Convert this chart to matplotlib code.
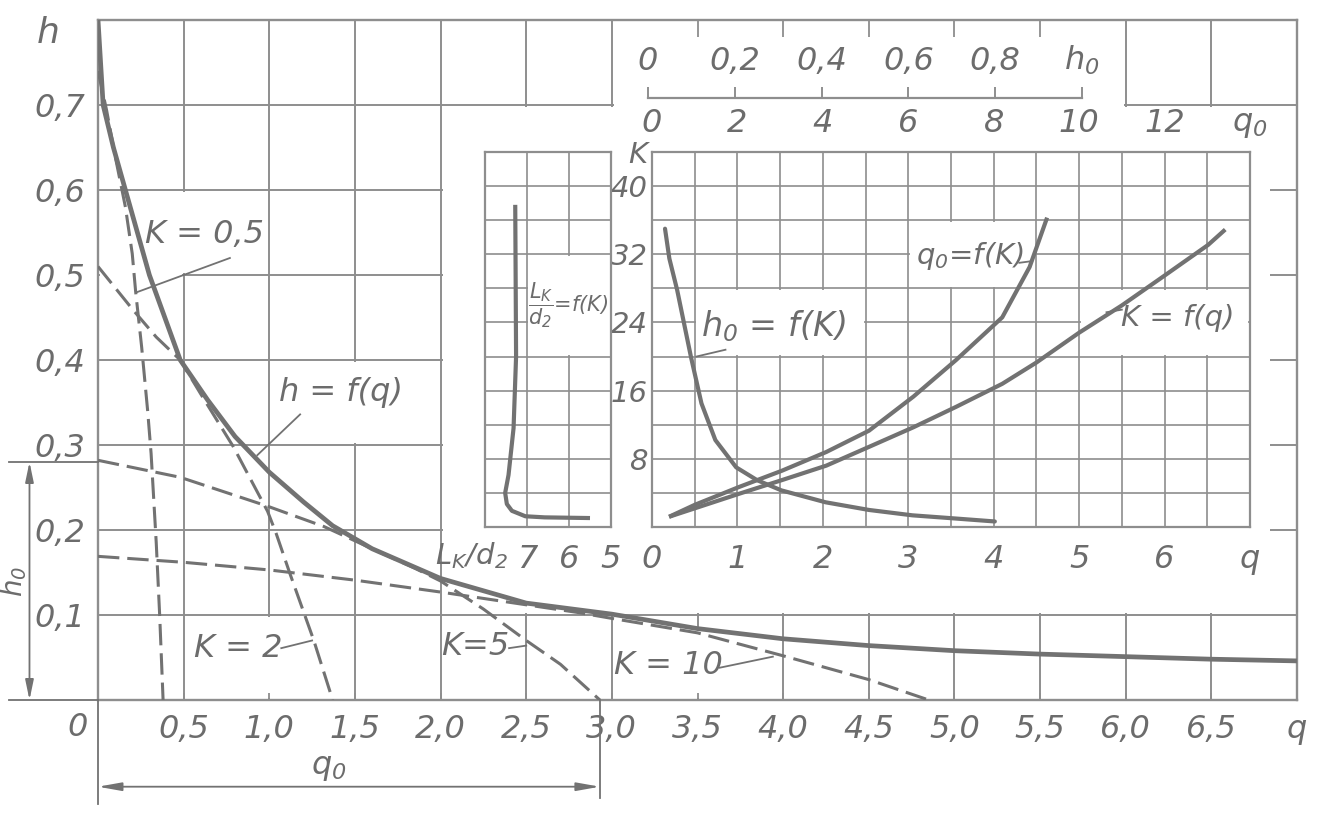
import numpy as np
import matplotlib
matplotlib.use('Agg')
import matplotlib.pyplot as plt
from matplotlib import font_manager
from matplotlib.patches import Rectangle

# ---------------- data ----------------
# main chart: envelope h = f(q)
hq_q = [0.0, 0.03, 0.09, 0.16, 0.23, 0.30, 0.39, 0.48, 0.64, 0.80, 1.00, 1.20, 1.37,
        1.60, 2.00, 2.50, 3.00, 3.50, 4.00, 4.50, 5.00, 5.50, 6.00, 6.50, 7.00]
hq_h = [0.80, 0.70, 0.65, 0.60, 0.55, 0.50, 0.45, 0.40, 0.353, 0.31, 0.268, 0.233, 0.205,
        0.178, 0.143, 0.114, 0.101, 0.084, 0.072, 0.064, 0.058, 0.054, 0.051, 0.048, 0.046]
# characteristics for several K
k05_q = [0.0, 0.05, 0.10, 0.16, 0.20, 0.22, 0.255, 0.29, 0.31, 0.34, 0.36, 0.38]
k05_h = [0.74, 0.694, 0.64, 0.58, 0.525, 0.48, 0.415, 0.34, 0.29, 0.185, 0.10, 0.0]
k2_q = [0.0, 0.20, 0.34, 0.48, 0.60, 0.79, 0.89, 0.99, 1.04, 1.12, 1.26, 1.37]
k2_h = [0.51, 0.46, 0.427, 0.40, 0.36, 0.298, 0.26, 0.222, 0.196, 0.149, 0.07, 0.0]
k5_q = [0.0, 0.48, 0.99, 1.32, 1.60, 1.85, 2.00, 2.25, 2.50, 2.70, 2.93]
k5_h = [0.282, 0.262, 0.228, 0.204, 0.178, 0.155, 0.140, 0.107, 0.070, 0.042, 0.0]
k10_q = [0.0, 0.5, 1.0, 1.5, 2.0, 2.5, 2.8, 3.0, 3.5, 4.0, 4.5, 4.85]
k10_h = [0.169, 0.162, 0.153, 0.141, 0.127, 0.112, 0.103, 0.096, 0.079, 0.052, 0.024, 0.0]
h0_dim = 0.28      # h0 of K = 5
q0_dim = 2.93      # q0 of K = 5

x_ticks = [0.5, 1.0, 1.5, 2.0, 2.5, 3.0, 3.5, 4.0, 4.5, 5.0, 5.5, 6.0, 6.5, 7.0]
x_labels = ['0,5', '1,0', '1,5', '2,0', '2,5', '3,0', '3,5', '4,0', '4,5',
            '5,0', '5,5', '6,0', '6,5', 'q']
y_ticks = [0.1, 0.2, 0.3, 0.4, 0.5, 0.6, 0.7]
y_labels = ['0,1', '0,2', '0,3', '0,4', '0,5', '0,6', '0,7']

# inset: h0 = f(K)  (h0 scale)
h0_vals = [0.04, 0.05, 0.068, 0.10, 0.124, 0.156, 0.204, 0.252, 0.308, 0.41, 0.51, 0.61, 0.69, 0.80]
h0_K = [35.0, 31.5, 27.8, 19.9, 14.5, 10.2, 7.0, 5.5, 4.3, 2.9, 2.0, 1.37, 1.07, 0.65]
# inset: q0 = f(K)  (q0 scale)
q0_vals = [0.4, 1.0, 2.04, 3.04, 4.08, 5.08, 6.12, 7.12, 8.2, 8.84, 9.25]
q0_K = [1.2, 2.6, 4.7, 6.6, 8.8, 11.3, 15.3, 19.6, 24.6, 30.5, 36.3]
# inset: K = f(q)
kq_q = [0.2, 1.02, 1.52, 2.04, 2.54, 3.06, 3.56, 4.1, 4.5, 5.0, 5.5, 6.0, 6.51, 6.71]
kq_K = [1.2, 3.9, 5.5, 7.2, 9.4, 11.7, 14.1, 16.8, 19.3, 22.8, 26.0, 29.5, 33.1, 34.9]
# left inset: L_K/d2 = f(K)
L_vals = [7.28, 7.26, 7.32, 7.44, 7.52, 7.48, 7.36, 7.04, 6.58, 5.5]
L_K = [37.8, 20.0, 11.6, 6.1, 4.0, 2.7, 1.9, 1.26, 1.13, 1.05]

in_x_ticks = [0, 1, 2, 3, 4, 5, 6, 7]
in_x_labels = ['0', '1', '2', '3', '4', '5', '6', 'q']
in_q0_ticks = [0, 2, 4, 6, 8, 10, 12, 14]
in_q0_labels = ['0', '2', '4', '6', '8', '10', '12', 'q$_0$']
in_h0_ticks = [0, 0.2, 0.4, 0.6, 0.8, 1.0]
in_h0_labels = ['0', '0,2', '0,4', '0,6', '0,8', 'h$_0$']
in_K_ticks = [8, 16, 24, 32, 40, 44]
in_K_labels = ['8', '16', '24', '32', '40', 'K']
L_ticks = [7, 6, 5]
L_labels = ['7', '6', '5']

# ---------------- style ----------------
names = {f.name for f in font_manager.fontManager.ttflist}
NARROW = 'Liberation Sans Narrow' in names
if NARROW:
    FAM = 'Liberation Sans Narrow'
    FS = 25
else:
    FAM = 'DejaVu Sans'
    FS = 23
plt.rcParams['font.family'] = [FAM, 'DejaVu Sans']
plt.rcParams['font.style'] = 'italic'
plt.rcParams['mathtext.fontset'] = 'custom'
plt.rcParams['mathtext.it'] = FAM + ':italic'
plt.rcParams['mathtext.rm'] = FAM + ':italic'
plt.rcParams['mathtext.default'] = 'it'

GRID = '#8e8e8e'
INK = '#727272'
TXT = '#6c6c6c'
GLW = 1.4

W, H = 1328, 822
def fx(px):
    return px / W
def fy(py):
    return 1 - py / H

fig = plt.figure(figsize=(W / 100, H / 100), dpi=100)
fig.patch.set_facecolor('white')

# ---------------- main chart ----------------
ax = fig.add_axes([fx(98), fy(700), fx(1297) - fx(98), fy(20) - fy(700)])
ax.set_xlim(0, 7)
ax.set_ylim(0, 0.8)
ax.set_facecolor('white')
for s in ax.spines.values():
    s.set_color(GRID)
    s.set_linewidth(1.7)

for x in x_ticks[:-1]:
    ax.axvline(x, color=GRID, lw=GLW, zorder=0.5)
for y in y_ticks:
    ax.axhline(y, color=GRID, lw=GLW, zorder=0.5)

d, e = 0.012, 0.0025
masks = [(2.0 + d, 0.1 + e, 6.84, 0.7 - e),
         (3.0 + d, 0.68, 6.0 - d, 0.8),
         (0.0 + d, 0.4 + e, 0.5 - d, 0.6 - e),
         (0.0 + d, 0.5 + e, 1.0 - d, 0.6 - e),
         (1.0 + d, 0.3 + e, 2.0 - d, 0.4 - e),
         (0.5 + d, 0.0 + e, 1.5 - d, 0.1 - e),
         (3.0 + d, 0.0 + e, 4.0 - d, 0.085)]
for x0, y0, x1, y1 in masks:
    ax.add_patch(Rectangle((x0, y0), x1 - x0, y1 - y0, facecolor='white',
                           edgecolor='none', zorder=1))

ax.set_xticks(x_ticks)
ax.set_xticklabels(x_labels)
ax.set_xticks([3.5, 4.0, 4.5, 5.0, 5.5], minor=True)
ax.xaxis.remove_overlapping_locs = False
ax.tick_params(axis='x', which='major', direction='in', length=5, width=1.3,
               color=GRID, bottom=True, top=False, pad=10, labelsize=FS, labelcolor=TXT)
ax.tick_params(axis='x', which='minor', direction='in', length=12, width=1.3,
               color=GRID, bottom=False, top=True, labelbottom=False)
ax.set_yticks(y_ticks)
ax.set_yticklabels(y_labels)
ax.tick_params(axis='y', length=0, pad=9, labelsize=FS, labelcolor=TXT)

ax.plot(hq_q, hq_h, color=INK, lw=3.4, solid_capstyle='round', zorder=3)
for qq, hh in [(k05_q, k05_h), (k2_q, k2_h), (k5_q, k5_h), (k10_q, k10_h)]:
    ax.plot(qq, hh, color=INK, lw=2.2, dashes=(7, 2.6), zorder=3)

def note(a, x, y, s, fs=FS, **kw):
    a.text(x, y, s, fontsize=fs, color=TXT, ha='center', va='center',
           zorder=5, clip_on=False, **kw)

def lead(a, x0, y0, x1, y1):
    a.plot([x0, x1], [y0, y1], color=INK, lw=1.3, zorder=4, clip_on=False)

note(ax, 0.62, 0.548, 'K = 0,5')
lead(ax, 0.77, 0.52, 0.23, 0.48)
note(ax, 1.42, 0.362, 'h = f(q)')
lead(ax, 1.18, 0.336, 0.93, 0.288)
note(ax, 0.82, 0.061, 'K = 2')
lead(ax, 1.07, 0.061, 1.25, 0.07)
note(ax, 2.20, 0.063, 'K=5')
lead(ax, 2.40, 0.061, 2.50, 0.064)
note(ax, 3.33, 0.041, 'K = 10')
lead(ax, 3.63, 0.038, 3.94, 0.051)

note(ax, -0.29, 0.785, 'h', fs=FS + 3)
note(ax, -0.12, -0.032, '0')

# h0 dimension (left)
lead(ax, -0.52, h0_dim, 0.0, h0_dim)
lead(ax, -0.52, 0.0, 0.0, 0.0)
ax.annotate('', xy=(-0.40, h0_dim), xytext=(-0.40, 0.0), xycoords='data',
            arrowprops=dict(arrowstyle='<|-|>,head_length=1.2,head_width=0.25',
                            color=INK, lw=1.3, shrinkA=0, shrinkB=0), annotation_clip=False)
note(ax, -0.49, 0.14, 'h$_0$', fs=FS - 3, rotation=90)

# q0 dimension (bottom)
lead(ax, 0.0, 0.0, 0.0, -0.122)
lead(ax, q0_dim, 0.0, q0_dim, -0.115)
ax.annotate('', xy=(q0_dim, -0.102), xytext=(0.0, -0.102), xycoords='data',
            arrowprops=dict(arrowstyle='<|-|>,head_length=1.4,head_width=0.25',
                            color=INK, lw=1.3, shrinkA=0, shrinkB=0), annotation_clip=False)
note(ax, 1.35, -0.079, 'q$_0$')

# ---------------- right inset ----------------
IN_L, IN_R, IN_T, IN_B = 652, 1250, 152, 527
ax_in = fig.add_axes([fx(IN_L), fy(IN_B), fx(IN_R) - fx(IN_L), fy(IN_T) - fy(IN_B)])
ax_in.set_xlim(0, 7)
ax_in.set_ylim(0, 44)
ax_in.set_facecolor('white')
for s in ax_in.spines.values():
    s.set_color(GRID)
    s.set_linewidth(1.6)
for x in np.arange(0.5, 7.0, 0.5):
    ax_in.axvline(x, color=GRID, lw=1.2, zorder=0.5)
for y in np.arange(4, 44, 4):
    ax_in.axhline(y, color=GRID, lw=1.2, zorder=0.5)
di, ei = 0.02, 0.2
for x0, y0, x1, y1 in [(0.5, 20, 2.5, 28), (3.0, 28, 4.5, 36), (5.0, 20, 7.0, 28)]:
    ax_in.add_patch(Rectangle((x0 + di, y0 + ei), x1 - x0 - 2 * di, y1 - y0 - 2 * ei,
                              facecolor='white', edgecolor='none', zorder=1))
ax_in.set_xticks(in_x_ticks)
ax_in.set_xticklabels(in_x_labels)
ax_in.set_yticks(in_K_ticks)
ax_in.set_yticklabels(in_K_labels)
ax_in.tick_params(axis='x', length=0, pad=12, labelsize=FS, labelcolor=TXT)
ax_in.tick_params(axis='y', length=0, pad=3, labelsize=FS - 2, labelcolor=TXT)
ax_in.plot(kq_q, kq_K, color=INK, lw=3.0, solid_capstyle='butt', zorder=3)

ax_q0 = ax_in.twiny()
ax_q0.set_xlim(0, 14)
for s in ax_q0.spines.values():
    s.set_visible(False)
ax_q0.patch.set_visible(False)
ax_q0.set_xticks(in_q0_ticks)
ax_q0.set_xticklabels(in_q0_labels)
ax_q0.tick_params(axis='x', length=0, pad=9, labelsize=FS, labelcolor=TXT)
ax_q0.plot(q0_vals, q0_K, color=INK, lw=3.0, solid_capstyle='butt', zorder=3)

ax_h0 = ax_in.twiny()
ax_h0.set_xlim(0.01, 1.388)
ax_h0.axis('off')
ax_h0.plot(h0_vals, h0_K, color=INK, lw=3.0, solid_capstyle='round', zorder=3)

note(ax_in, 1.42, 23.6, 'h$_0$ = f(K)', fs=FS + 1)
lead(ax_in, 0.86, 20.8, 0.52, 20.0)
note(ax_in, 3.72, 31.8, 'q$_0$=f(K)', fs=FS - 2)
lead(ax_in, 4.30, 31.0, 4.45, 31.2)
note(ax_in, 6.15, 24.5, 'K = f(q)', fs=FS - 2)
lead(ax_in, 5.32, 25.2, 5.50, 25.5)

# h0 scale bar above the inset
ax_hs = fig.add_axes([fx(648), fy(98) - 0.02, fx(1082) - fx(648), 0.02])
ax_hs.set_xlim(0, 1.0)
ax_hs.patch.set_visible(False)
for k in ['left', 'right', 'bottom']:
    ax_hs.spines[k].set_visible(False)
ax_hs.spines['top'].set_color(GRID)
ax_hs.spines['top'].set_linewidth(1.6)
ax_hs.set_yticks([])
ax_hs.xaxis.set_ticks_position('top')
ax_hs.set_xticks(in_h0_ticks)
ax_hs.set_xticklabels(in_h0_labels)
ax_hs.tick_params(axis='x', direction='out', length=8, width=1.4, color=GRID,
                  pad=7, labelsize=FS, labelcolor=TXT)

# ---------------- left inset ----------------
L_L, L_R = 485, 611
ax_L = fig.add_axes([fx(L_L), fy(IN_B), fx(L_R) - fx(L_L), fy(IN_T) - fy(IN_B)])
ax_L.set_xlim(8, 5)
ax_L.set_ylim(0, 44)
ax_L.set_facecolor('white')
for s in ax_L.spines.values():
    s.set_color(GRID)
    s.set_linewidth(1.6)
for x in [7, 6]:
    ax_L.axvline(x, color=GRID, lw=1.2, zorder=0.5)
for y in np.arange(4, 44, 4):
    ax_L.axhline(y, color=GRID, lw=1.2, zorder=0.5)
ax_L.add_patch(Rectangle((5.0 + 0.03, 20.2), 2.0 - 0.06, 11.6, facecolor='white',
                         edgecolor='none', zorder=1))
ax_L.set_xticks(L_ticks)
ax_L.set_xticklabels(L_labels)
ax_L.set_yticks([])
ax_L.tick_params(axis='x', length=0, pad=12, labelsize=FS, labelcolor=TXT)
ax_L.plot(L_vals, L_K, color=INK, lw=3.0, solid_capstyle='butt', zorder=3)
note(ax_L, 6.02, 26.0, r'$\dfrac{L_K}{d_2}$=f(K)', fs=FS - 8)
note(ax_L, 8.32, -3.4, 'L$_K$/d$_2$', fs=FS - 2)

fig.savefig('out.png', dpi=100, facecolor='white')
